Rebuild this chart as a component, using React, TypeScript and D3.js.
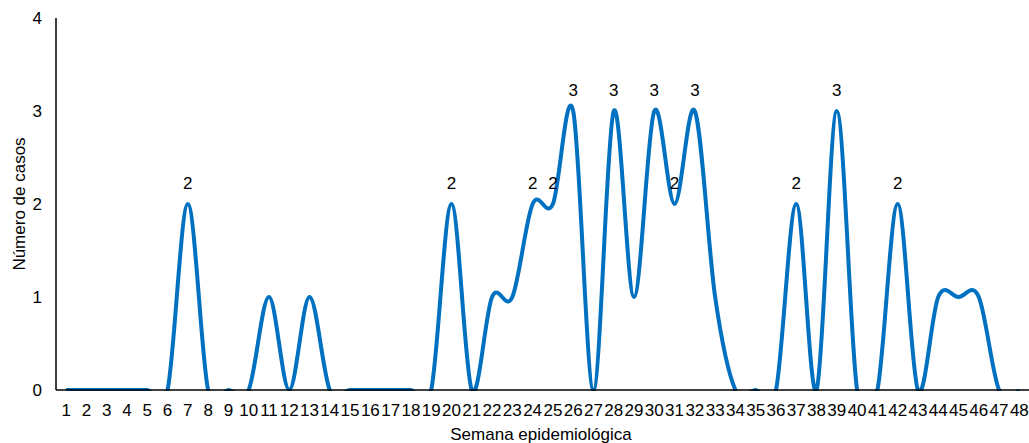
import React from "react";
import * as d3 from "d3";

const weeks: number[] = Array.from({ length: 48 }, (_, i) => i + 1);
const cases: number[] = [
  0, 0, 0, 0, 0, 0, 2, 0, 0, 0, 1, 0, 1, 0, 0, 0, 0, 0, 0, 2, 0, 1, 1, 2, 2, 3,
  0, 3, 1, 3, 2, 3, 1, 0, 0, 0, 2, 0, 3, 0, 0, 2, 0, 1, 1, 1, 0, 0,
];
const labeledWeeks: number[] = [7, 20, 24, 25, 26, 28, 30, 31, 32, 37, 39, 42];
const yTicks: number[] = [0, 1, 2, 3, 4];

export default function App() {
  const W = 1029;
  const H = 443;
  const left = 56;
  const right = 1029.5;
  const top = 18;
  const bottom = 390;

  const x = d3
    .scaleBand<number>()
    .domain(weeks)
    .range([left, right])
    .paddingInner(0)
    .paddingOuter(0);
  const cx = (w: number) => (x(w) as number) + x.bandwidth() / 2;
  const y = d3.scaleLinear().domain([0, 4]).range([bottom, top]);

  const line = d3
    .line<number>()
    .x((_, i) => cx(weeks[i]))
    .y((d) => y(d))
    .curve(d3.curveCardinal.tension(0));

  const font = "'Liberation Sans', Arial, sans-serif";
  const fs = 17;

  return (
    <svg
      width={W}
      height={H}
      style={{ position: "absolute", left: 0, top: 0, background: "#fff" }}
    >
      <defs>
        <clipPath id="plotclip">
          <rect x={left} y={0} width={right - left} height={bottom + 1} />
        </clipPath>
      </defs>
      <path
        d={line(cases) || ""}
        fill="none"
        stroke="#0070C0"
        strokeWidth={4}
        clipPath="url(#plotclip)"
        strokeLinejoin="round"
      />
      <line x1={left} x2={left} y1={top} y2={bottom} stroke="#000" strokeWidth={1.5} />
      <line x1={left} x2={W} y1={bottom} y2={bottom} stroke="#000" strokeWidth={1.5} />
      {yTicks.map((t) => (
        <text
          key={t}
          x={42}
          y={y(t)}
          dy="0.35em"
          textAnchor="end"
          fontFamily={font}
          fontSize={fs}
          fill="#000"
        >
          {t}
        </text>
      ))}
      {weeks.map((w) => (
        <text
          key={w}
          x={cx(w)}
          y={410}
          dy="0.35em"
          textAnchor="middle"
          fontFamily={font}
          fontSize={fs}
          fill="#000"
        >
          {w}
        </text>
      ))}
      {labeledWeeks.map((w) => (
        <text
          key={"l" + w}
          x={cx(w)}
          y={y(cases[w - 1]) - 21}
          dy="0.35em"
          textAnchor="middle"
          fontFamily={font}
          fontSize={fs}
          fill="#000"
        >
          {cases[w - 1]}
        </text>
      ))}
      <text
        x={541}
        y={440}
        textAnchor="middle"
        fontFamily={font}
        fontSize={fs}
        fill="#000"
      >
        Semana epidemiológica
      </text>
      <text
        transform={`translate(19,${(top + bottom) / 2}) rotate(-90)`}
        dy="0.35em"
        textAnchor="middle"
        fontFamily={font}
        fontSize={fs}
        fill="#000"
      >
        Número de casos
      </text>
    </svg>
  );
}
